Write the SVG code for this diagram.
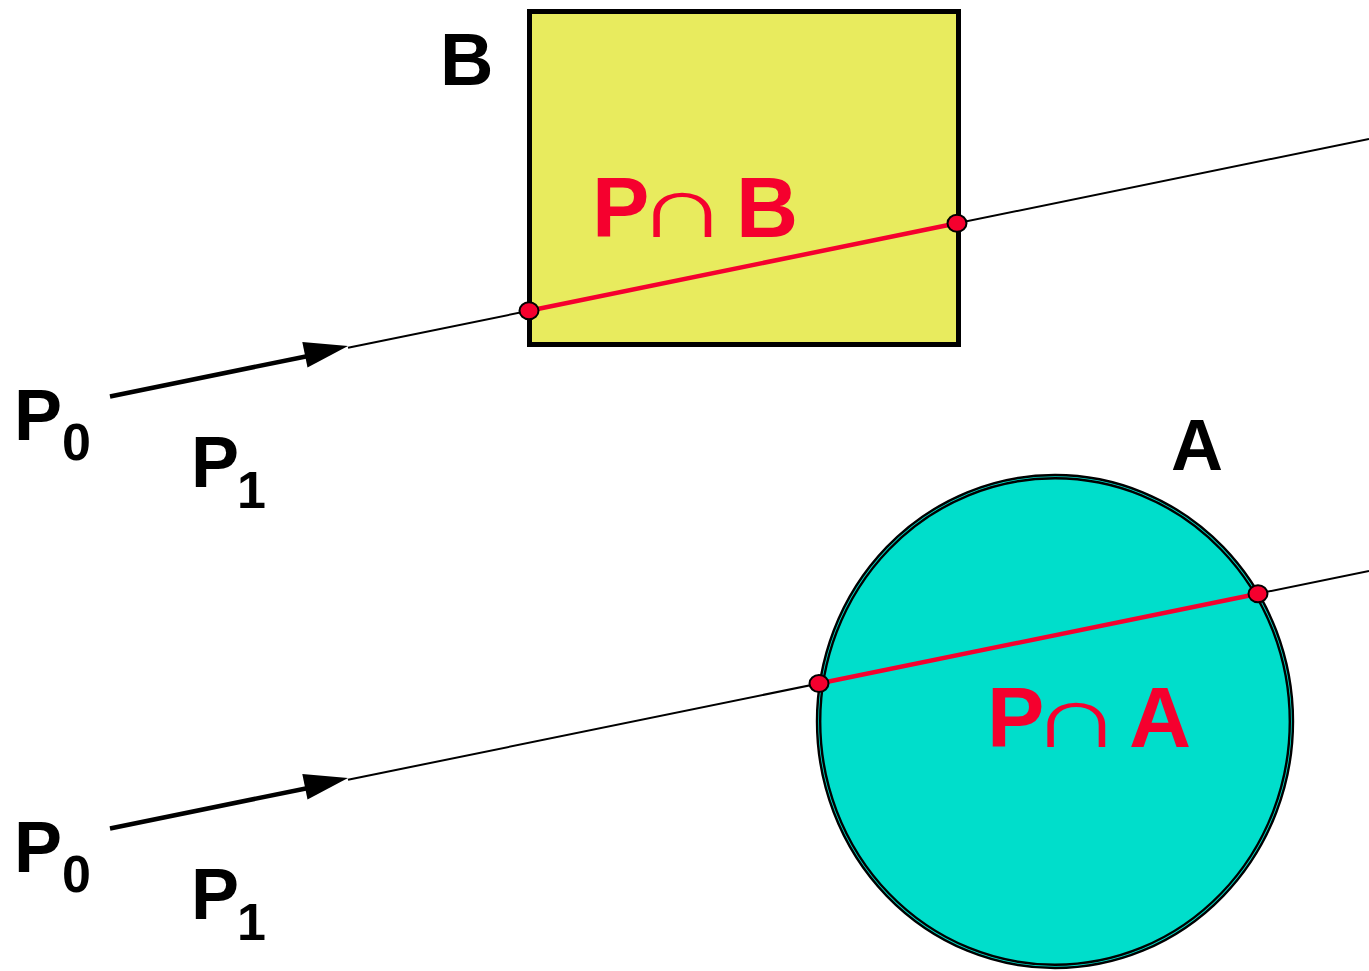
<svg xmlns="http://www.w3.org/2000/svg" width="1369" height="971" viewBox="0 0 1369 971">
<style>
.lbl{font-family:"Liberation Sans",Arial,sans-serif;font-weight:bold;fill:#000}
.red{font-family:"Liberation Sans",Arial,sans-serif;font-weight:bold;fill:#F5002E}
.cap{font-weight:normal}
.ray{stroke:#000;stroke-width:2;fill:none}
.shaft{stroke:#000;stroke-width:4.5;fill:none}
.seg{stroke:#F5002E;stroke-width:4.5;fill:none}
.pt{fill:#F5002E;stroke:#000;stroke-width:2}
.rim{fill:none;stroke:#000;stroke-width:2.4}
</style>
<rect width="1369" height="971" fill="#fff"/>
<g id="box-B">
<rect x="529.5" y="11.5" width="429" height="333" fill="#E8EB5E" stroke="#000" stroke-width="5"/>
<text class="lbl" x="440" y="85" font-size="74">B</text>
</g>
<g id="sphere-A">
<ellipse cx="1055" cy="721.5" rx="238" ry="246.5" fill="#00DECB"/>
<ellipse class="rim" cx="1055" cy="721.5" rx="238" ry="246.5"/>
<ellipse class="rim" cx="1055" cy="721.5" rx="234.8" ry="243.3"/>
<text class="lbl" x="1171" y="470" font-size="72">A</text>
</g>
<g id="connectors">
<line class="ray" x1="348" y1="347.8" x2="1369" y2="139"/>
<line class="shaft" x1="110" y1="396.5" x2="312" y2="355.2"/>
<polygon points="348,346 302.3,342.1 307.5,367.5" fill="#000"/>
<line class="seg" x1="529" y1="310.8" x2="957" y2="223.3"/>
<line class="ray" x1="348" y1="779.8" x2="1369" y2="571"/>
<line class="shaft" x1="110" y1="828.5" x2="312" y2="787.2"/>
<polygon points="348,778 302.3,774.1 307.5,799.5" fill="#000"/>
<line class="seg" x1="819" y1="683.5" x2="1258" y2="593.7"/>
</g>
<g id="points">
<ellipse class="pt" cx="529" cy="310.8" rx="9.5" ry="8.5"/>
<ellipse class="pt" cx="957" cy="223.3" rx="9.5" ry="8.5"/>
<ellipse class="pt" cx="819" cy="683.5" rx="9.5" ry="8.5"/>
<ellipse class="pt" cx="1258" cy="593.7" rx="9.5" ry="8.5"/>
</g>
<g id="label-PB">
<text class="red" y="237" font-size="86"><tspan x="592">P</tspan><tspan class="cap" x="635.7" font-size="88" textLength="93" lengthAdjust="spacingAndGlyphs">∩</tspan><tspan x="736">B</tspan></text>
</g>
<g id="label-PA">
<text class="red" y="747" font-size="86"><tspan x="987">P</tspan><tspan class="cap" x="1029.7" font-size="88" textLength="93" lengthAdjust="spacingAndGlyphs">∩</tspan><tspan x="1129">A</tspan></text>
</g>
<g id="P0-top">
<text class="lbl" x="14" y="440" font-size="72">P</text>
<text class="lbl" x="62" y="460" font-size="52">0</text>
</g>
<g id="P1-top">
<text class="lbl" x="191" y="487" font-size="72">P</text>
<text class="lbl" x="237" y="508" font-size="52">1</text>
</g>
<g id="P0-bottom">
<text class="lbl" x="14" y="872" font-size="72">P</text>
<text class="lbl" x="62" y="892" font-size="52">0</text>
</g>
<g id="P1-bottom">
<text class="lbl" x="191" y="919" font-size="72">P</text>
<text class="lbl" x="237" y="940" font-size="52">1</text>
</g>
</svg>
